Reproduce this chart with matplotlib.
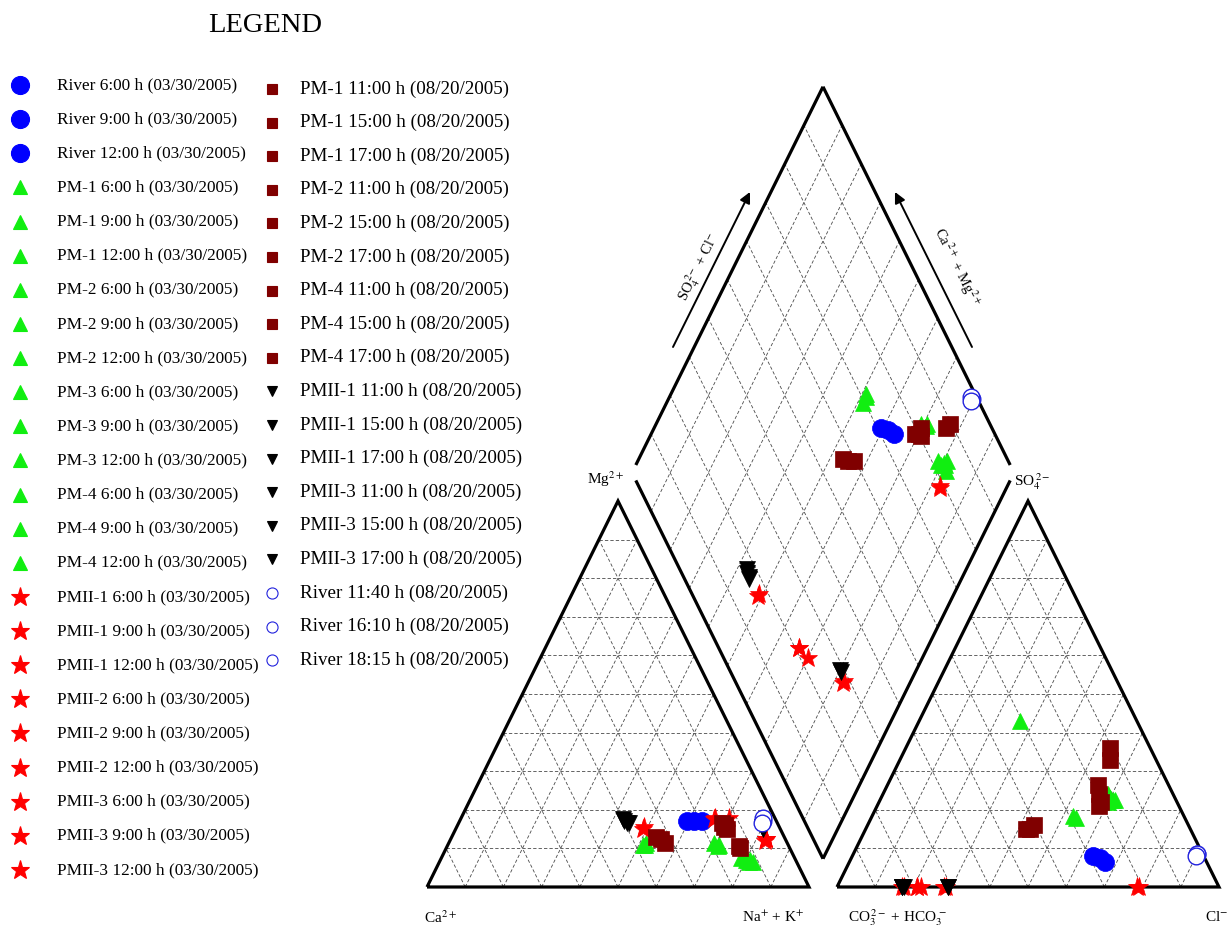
import numpy as np
import matplotlib
matplotlib.use('Agg')
import matplotlib.pyplot as plt

plt.rcParams['font.family'] = ['Liberation Serif', 'DejaVu Serif']
plt.rcParams['mathtext.fontset'] = 'stix'

# ------------------------------------------------------------------ data
# River, 03/30/2005 (filled blue circles)
river1_labels = ['River 6:00 h (03/30/2005)', 'River 9:00 h (03/30/2005)', 'River 12:00 h (03/30/2005)']
river1_ca = [23.5, 21.5, 19.5]
river1_mg = [17, 17, 17]
river1_nak = [59.5, 61.5, 63.5]
river1_hco3 = [29, 27.5, 26.5]
river1_so4 = [8, 7.5, 6.5]
river1_cl = [63, 65, 67]

# PM wells, 03/30/2005 (green triangles)
pm1_labels = ['PM-1 6:00 h (03/30/2005)', 'PM-1 9:00 h (03/30/2005)', 'PM-1 12:00 h (03/30/2005)',
              'PM-2 6:00 h (03/30/2005)', 'PM-2 9:00 h (03/30/2005)', 'PM-2 12:00 h (03/30/2005)',
              'PM-3 6:00 h (03/30/2005)', 'PM-3 9:00 h (03/30/2005)', 'PM-3 12:00 h (03/30/2005)',
              'PM-4 6:00 h (03/30/2005)', 'PM-4 9:00 h (03/30/2005)', 'PM-4 12:00 h (03/30/2005)']
pm1_ca = [38, 37, 37.5, 18, 19, 18.5, 14, 12.5, 12.5, 11.5, 12, 13]
pm1_mg = [11, 11.5, 11, 11, 11.5, 10.5, 7.5, 7, 6.5, 6.5, 7, 7]
pm1_nak = [51, 51.5, 51.5, 71, 69.5, 71, 78.5, 80.5, 81, 82, 81, 80]
pm1_hco3 = [28.5, 30.5, 29, 17, 18, 16.5, 18.5, 17, 16, 17.5, 17, 18]
pm1_so4 = [18, 43, 18.5, 23, 23.5, 22.5, 23, 23, 22.5, 23.5, 24, 22]
pm1_cl = [53.5, 26.5, 52.5, 60, 58.5, 61, 58.5, 60, 61.5, 59, 59, 60]

# PMII wells, 03/30/2005 (red stars)
pmii1_labels = ['PMII-1 6:00 h (03/30/2005)', 'PMII-1 9:00 h (03/30/2005)', 'PMII-1 12:00 h (03/30/2005)',
                'PMII-2 6:00 h (03/30/2005)', 'PMII-2 9:00 h (03/30/2005)', 'PMII-2 12:00 h (03/30/2005)',
                'PMII-3 6:00 h (03/30/2005)', 'PMII-3 9:00 h (03/30/2005)', 'PMII-3 12:00 h (03/30/2005)']
pmii1_ca = [36, 35.5, 15.5, 16, 12, 5, 5, 5, 5.5]
pmii1_mg = [15, 15.5, 18, 17.5, 18, 12.5, 12.5, 12.5, 12]
pmii1_nak = [49, 49, 66.5, 66.5, 70, 82.5, 82.5, 82.5, 82.5]
pmii1_hco3 = [83, 82.5, 79, 79, 78, 72, 71.5, 21, 21.5]
pmii1_so4 = [0, 0, 0, 0, 0, 0, 0, 0, 0]
pmii1_cl = [17, 17.5, 21, 21, 22, 28, 28.5, 79, 78.5]

# PM wells, 08/20/2005 (dark red squares)
pm2_labels = ['PM-1 11:00 h (08/20/2005)', 'PM-1 15:00 h (08/20/2005)', 'PM-1 17:00 h (08/20/2005)',
              'PM-2 11:00 h (08/20/2005)', 'PM-2 15:00 h (08/20/2005)', 'PM-2 17:00 h (08/20/2005)',
              'PM-4 11:00 h (08/20/2005)', 'PM-4 15:00 h (08/20/2005)', 'PM-4 17:00 h (08/20/2005)']
pm2_ca = [32.5, 33.5, 32, 14, 14.5, 14, 13, 13, 14.5]
pm2_mg = [12.5, 13, 11.5, 16, 16.5, 15, 10, 10.5, 15.5]
pm2_nak = [55, 53.5, 56.5, 70, 69, 71, 77, 76.5, 70]
pm2_hco3 = [42, 43, 40.5, 18.5, 21, 19.5, 10.5, 12, 20]
pm2_so4 = [15, 15, 16, 26.5, 21, 24, 36, 33, 22]
pm2_cl = [43, 42, 43.5, 55, 58, 56.5, 53.5, 55, 58]

# PMII wells, 08/20/2005 (black down triangles)
pmii2_labels = ['PMII-1 11:00 h (08/20/2005)', 'PMII-1 15:00 h (08/20/2005)', 'PMII-1 17:00 h (08/20/2005)',
                'PMII-3 11:00 h (08/20/2005)', 'PMII-3 15:00 h (08/20/2005)', 'PMII-3 17:00 h (08/20/2005)']
pmii2_ca = [40, 39.5, 40, 39, 4.5, 4.5]
pmii2_mg = [17, 16.5, 17.5, 16.5, 15, 15.5]
pmii2_nak = [43, 44, 42.5, 44.5, 80.5, 80]
pmii2_hco3 = [83, 83, 82.5, 83, 71, 71]
pmii2_so4 = [0, 0, 0, 0, 0, 0]
pmii2_cl = [17, 17, 17.5, 17, 29, 29]

# River, 08/20/2005 (open circles)
river2_labels = ['River 11:40 h (08/20/2005)', 'River 16:10 h (08/20/2005)', 'River 18:15 h (08/20/2005)']
river2_ca = [3.5, 3, 4]
river2_mg = [17, 18, 16.5]
river2_nak = [79.5, 79, 79.5]
river2_hco3 = [1.5, 1.5, 2]
river2_so4 = [8.5, 8.5, 8]
river2_cl = [90, 90, 90]

# ------------------------------------------------------------------ styles
groups = [
    dict(labels=river1_labels, mg=river1_mg, nak=river1_nak, so4=river1_so4, cl=river1_cl,
         marker='o', ms=13, mfc='#0000ff', mec='#0000ff', mew=0.5, lms=13, lmfc='#0000ff', lmec='#0000ff'),
    dict(labels=pm1_labels, mg=pm1_mg, nak=pm1_nak, so4=pm1_so4, cl=pm1_cl,
         marker='^', ms=12, mfc='#11ee11', mec='#11ee11', mew=0.5, lms=10, lmfc='#11ee11', lmec='#11ee11'),
    dict(labels=pmii1_labels, mg=pmii1_mg, nak=pmii1_nak, so4=pmii1_so4, cl=pmii1_cl,
         marker='*', ms=14, mfc='#ff0000', mec='#ff0000', mew=0.5, lms=14, lmfc='#ff0000', lmec='#ff0000'),
    dict(labels=pm2_labels, mg=pm2_mg, nak=pm2_nak, so4=pm2_so4, cl=pm2_cl,
         marker='s', ms=11, mfc='#800000', mec='#800000', mew=0.5, lms=7.5, lmfc='#800000', lmec='#800000'),
    dict(labels=pmii2_labels, mg=pmii2_mg, nak=pmii2_nak, so4=pmii2_so4, cl=pmii2_cl,
         marker='v', ms=11, mfc='#000000', mec='#000000', mew=0.5, lms=7.5, lmfc='#000000', lmec='#000000'),
    dict(labels=river2_labels, mg=river2_mg, nak=river2_nak, so4=river2_so4, cl=river2_cl,
         marker='o', ms=12, mfc='white', mec='#2222dd', mew=1.0, lms=8, lmfc='white', lmec='#2222dd'),
]

# ------------------------------------------------------------------ geometry
H = np.sqrt(3) / 2
G = 0.0733           # gap between triangles (fraction of side)
PX0, PXW, PY0, PYH = 427.0, 382.0, 887.0, 445.7   # placement of the diagram in the figure (pixels)
W, HGT = 1231, 930

fig = plt.figure(figsize=(W / 100, HGT / 100), dpi=100)
fig.patch.set_facecolor('white')

# legend axes in pixel coordinates
lax = fig.add_axes([0, 0, 1, 1])
lax.set_xlim(0, W)
lax.set_ylim(HGT, 0)
lax.axis('off')

ax = fig.add_axes([0, 0, 1, 1])
ax.patch.set_alpha(0)
ax.set_xlim(-PX0 / PXW, (W - PX0) / PXW)
ax.set_ylim(-(HGT - PY0) / PYH, PY0 / PYH)
ax.axis('off')

grid_kw = dict(color='#4a4a4a', lw=0.6, ls=(0, (4, 2.5)), zorder=1)
edge_kw = dict(color='black', lw=2.3, zorder=2, solid_capstyle='butt', solid_joinstyle='miter')


def tri(x0):
    for i in range(1, 10):
        f = i / 10
        ax.plot([x0 + f / 2, x0 + 1 - f / 2], [f * H, f * H], **grid_kw)
        ax.plot([x0 + f, x0 + f + (1 - f) / 2], [0, (1 - f) * H], **grid_kw)
        ax.plot([x0 + 1 - f, x0 + (1 - f) / 2], [0, (1 - f) * H], **grid_kw)
    ax.plot([x0, x0 + 1, x0 + 0.5, x0], [0, 0, H, 0], **edge_kw)


tri(0.0)
tri(1 + G)

B = np.array([1 + G / 2, G * H])
e1 = np.array([-0.5, H])
e2 = np.array([0.5, H])
for i in range(1, 10):
    f = i / 10
    p, q = B + f * e1, B + f * e1 + e2
    ax.plot([p[0], q[0]], [p[1], q[1]], **grid_kw)
    p, q = B + f * e2, B + f * e2 + e1
    ax.plot([p[0], q[0]], [p[1], q[1]], **grid_kw)
gap = 0.02
for (a0, a1, b0, b1) in [(0, 1 - gap, 0, 0), (1, 1, gap, 1), (0, 0, 0, 1 - gap), (gap, 1, 1, 1)]:
    p = B + a0 * e1 + b0 * e2
    q = B + a1 * e1 + b1 * e2
    ax.plot([p[0], q[0]], [p[1], q[1]], **edge_kw)


def cation_xy(mg, nak):
    mg = np.asarray(mg) / 100.0
    nak = np.asarray(nak) / 100.0
    return nak + mg / 2, mg * H


def anion_xy(so4, cl):
    so4 = np.asarray(so4) / 100.0
    cl = np.asarray(cl) / 100.0
    return 1 + G + cl + so4 / 2, so4 * H


def diamond_xy(x1, y1, x2, y2):
    t = (x2 - x1) - (y1 - y2) / (2 * H)
    return x1 + 0.5 * t, y1 + H * t


for k, gr in enumerate(groups):
    x1, y1 = cation_xy(gr['mg'], gr['nak'])
    x2, y2 = anion_xy(gr['so4'], gr['cl'])
    xd, yd = diamond_xy(x1, y1, x2, y2)
    st = dict(ls='none', marker=gr['marker'], ms=gr['ms'], mfc=gr['mfc'], mec=gr['mec'],
              mew=gr['mew'], zorder=5 + k, clip_on=False)
    ax.plot(x1, y1, **st)
    ax.plot(x2, y2, **st)
    ax.plot(xd, yd, **st)

# vertex labels
lab_fs = 11
ax.text(0.035, -0.068, r'Ca$^{2+}$', fontsize=lab_fs, ha='center', va='center')
ax.text(0.905, -0.068, r'Na$^{+}$ + K$^{+}$', fontsize=lab_fs, ha='center', va='center')
ax.text(1 + G + 0.16, -0.068, r'CO$_3^{\,2-}$ + HCO$_3^{\,-}$', fontsize=lab_fs, ha='center', va='center')
ax.text(2 + G - 0.005, -0.068, r'Cl$^{-}$', fontsize=lab_fs, ha='center', va='center')
ax.text(0.468, 0.915, r'Mg$^{2+}$', fontsize=lab_fs, ha='center', va='center')
ax.text(1.585, 0.91, r'SO$_4^{\,2-}$', fontsize=lab_fs, ha='center', va='center')

# arrows along the diamond's upper edges
ang = np.degrees(np.arctan2(H * PYH, 0.5 * PXW))
ax.annotate('', xy=(0.8455, 1.5594), xytext=(0.644, 1.2116),
            arrowprops=dict(arrowstyle='-|>', color='black', lw=1.4, mutation_scale=16, shrinkA=0, shrinkB=0))
ax.annotate('', xy=(1.2251, 1.5594), xytext=(1.4267, 1.2116),
            arrowprops=dict(arrowstyle='-|>', color='black', lw=1.4, mutation_scale=16, shrinkA=0, shrinkB=0))
ax.text(0.712, 1.391, r'SO$_4^{\,2-}$ + Cl$^{-}$', fontsize=10.5, rotation=ang,
        ha='center', va='center', rotation_mode='anchor')
ax.text(1.388, 1.391, r'Ca$^{\,2+}$ + Mg$^{\,2+}$', fontsize=10.5, rotation=-ang,
        ha='center', va='center', rotation_mode='anchor')

# ------------------------------------------------------------------ legend
lax.text(265, 25, 'LEGEND', fontsize=20.5, ha='center', va='center')
col1 = groups[:3]
col2 = groups[3:]


def draw_col(cols, xm, xt, y0, dy, fs):
    r = 0
    for gr in cols:
        for lab in gr['labels']:
            y = y0 + r * dy
            lax.plot([xm], [y], ls='none', marker=gr['marker'], ms=gr['lms'], mfc=gr['lmfc'],
                     mec=gr['lmec'], mew=0.8)
            lax.text(xt, y, lab, fontsize=fs, ha='left', va='center')
            r += 1


draw_col(col1, 20, 57, 85, 34.13, 12.4)
draw_col(col2, 272, 300, 89, 33.6, 13.7)

fig.savefig('out.png', dpi=100, facecolor='white')
